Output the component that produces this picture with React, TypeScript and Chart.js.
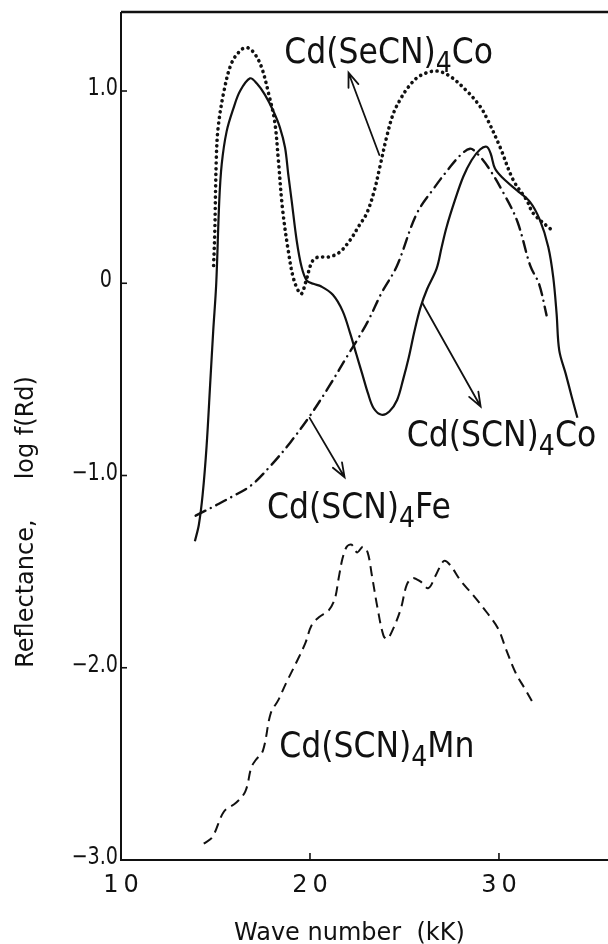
import React, { useEffect, useRef } from "react";
import { Chart, registerables } from "chart.js";
Chart.register(...registerables);

// ---- Data (wave number in kK, log f(Rd)) ----
const secnCoX = [14.9, 14.96, 15.04, 15.14, 15.45, 15.86, 16.38, 16.72, 17.1, 17.45, 17.82, 18.13, 18.33, 18.54, 18.85, 19.16, 19.53, 19.77, 20.1, 20.4, 21.0, 21.55, 22.12, 22.6, 23.0, 23.4, 23.7, 24.06, 24.4, 24.76, 25.2, 25.8, 26.67, 27.39, 28.3, 29.0, 29.4, 30.05, 30.76, 31.47, 31.82, 32.8];
const secnCoY = [0.092, 0.256, 0.637, 0.81, 1.0, 1.147, 1.216, 1.225, 1.19, 1.12, 0.983, 0.844, 0.637, 0.394, 0.17, 0.014, -0.055, 0.005, 0.11, 0.135, 0.137, 0.16, 0.224, 0.3, 0.363, 0.48, 0.606, 0.762, 0.88, 0.953, 1.02, 1.078, 1.104, 1.078, 1.0, 0.92, 0.85, 0.71, 0.536, 0.432, 0.363, 0.276];

const scnCoX = [13.91, 14.12, 14.32, 14.53, 14.73, 14.88, 15.04, 15.2, 15.33, 15.59, 15.95, 16.3, 16.83, 17.18, 17.62, 18.06, 18.41, 18.68, 18.85, 19.03, 19.3, 19.56, 19.83, 20.18, 20.6, 21.21, 21.73, 22.14, 22.45, 22.76, 23.07, 23.37, 23.79, 24.2, 24.61, 24.92, 25.23, 25.53, 25.84, 26.2, 26.7, 26.97, 27.23, 27.67, 28.11, 28.55, 29.0, 29.35, 29.56, 29.79, 30.23, 30.94, 31.64, 32.17, 32.61, 32.87, 33.05, 33.19, 33.53, 33.85, 34.15];
const scnCoY = [-1.342, -1.256, -1.1, -0.846, -0.504, -0.248, 0.0, 0.43, 0.62, 0.79, 0.91, 1.0, 1.066, 1.04, 0.98, 0.896, 0.81, 0.706, 0.567, 0.43, 0.22, 0.083, 0.014, -0.003, -0.017, -0.06, -0.145, -0.265, -0.368, -0.47, -0.573, -0.65, -0.684, -0.667, -0.607, -0.504, -0.385, -0.248, -0.128, -0.03, 0.076, 0.189, 0.293, 0.432, 0.554, 0.64, 0.696, 0.71, 0.675, 0.597, 0.545, 0.484, 0.423, 0.328, 0.189, 0.033, -0.158, -0.349, -0.47, -0.59, -0.7];

const scnFeX = [13.95, 15.04, 15.86, 16.89, 17.92, 18.95, 19.98, 21.0, 22.04, 22.47, 23.07, 23.79, 24.6, 25.64, 26.6, 27.39, 28.0, 28.47, 28.8, 29.44, 30.27, 30.98, 31.66, 32.12, 32.52];
const scnFeY = [-1.209, -1.154, -1.111, -1.051, -0.949, -0.829, -0.692, -0.538, -0.368, -0.3, -0.197, -0.05, 0.09, 0.36, 0.5, 0.602, 0.67, 0.7, 0.68, 0.602, 0.464, 0.32, 0.09, -0.003, -0.167];

const scnMnX = [14.38, 14.84, 15.45, 16.07, 16.58, 16.89, 17.1, 17.51, 17.92, 18.33, 18.74, 19.36, 19.77, 20.08, 20.49, 21.0, 21.32, 21.52, 21.73, 21.95, 22.2, 22.5, 22.8, 23.05, 23.27, 23.58, 23.89, 24.09, 24.4, 24.81, 25.12, 25.43, 25.84, 26.26, 26.67, 27.08, 27.39, 28.0, 28.62, 29.34, 29.96, 30.37, 30.88, 31.4, 31.81];
const scnMnY = [-2.915, -2.88, -2.748, -2.704, -2.643, -2.52, -2.484, -2.431, -2.238, -2.167, -2.079, -1.956, -1.868, -1.78, -1.736, -1.7, -1.639, -1.533, -1.428, -1.37, -1.36, -1.4, -1.37, -1.4, -1.516, -1.692, -1.833, -1.85, -1.798, -1.692, -1.569, -1.533, -1.551, -1.586, -1.516, -1.445, -1.463, -1.551, -1.621, -1.71, -1.797, -1.903, -2.026, -2.114, -2.185];

// ---- Axis ticks ----
const xTickValues = [10, 20, 30];
const xTickLabels = ["10", "20", "30"];
const yTickValues = [1, 0, -1, -2, -3];
const yTickLabels = ["1.0", "0", "\u22121.0", "\u22122.0", "\u22123.0"];
const xTitle = "Wave number  (kK)";
const yTitleParts = ["Reflectance,", "log f(Rd)"];

// ---- Curve labels (formula parts, anchor in data units) ----
const labelMain = ["Cd(SeCN)", "Cd(SCN)", "Cd(SCN)", "Cd(SCN)"];
const labelSub = ["4", "4", "4", "4"];
const labelTail = ["Co", "Co", "Fe", "Mn"];
const labelX = [18.64, 25.12, 17.72, 18.37];
const labelY = [1.147, -0.846, -1.219, -2.463];

// ---- Arrows (tail -> head, data units) ----
const arrowFromX = [23.67, 25.95, 19.98];
const arrowFromY = [0.667, -0.103, -0.7];
const arrowToX = [22.04, 29.03, 21.83];
const arrowToY = [1.095, -0.641, -1.009];

const INK = "#111";

function pts(xs: number[], ys: number[]) {
  return xs.map((x, i) => ({ x, y: ys[i] }));
}

const decorPlugin = {
  id: "decor",
  beforeDraw(chart: any) {
    const ctx = chart.ctx;
    ctx.save();
    ctx.fillStyle = "#fff";
    ctx.fillRect(0, 0, chart.width, chart.height);
    ctx.restore();
  },
  afterDraw(chart: any) {
    const ctx: CanvasRenderingContext2D = chart.ctx;
    const xs = chart.scales.x;
    const ys = chart.scales.y;
    const a = chart.chartArea;
    ctx.save();
    ctx.strokeStyle = INK;
    ctx.fillStyle = INK;
    ctx.lineCap = "butt";
    // frame: left, bottom, top
    ctx.lineWidth = 2;
    ctx.beginPath();
    ctx.moveTo(a.left, a.top);
    ctx.lineTo(a.left, a.bottom);
    ctx.lineTo(a.right, a.bottom);
    ctx.stroke();
    ctx.lineWidth = 2.6;
    ctx.beginPath();
    ctx.moveTo(a.left, a.top);
    ctx.lineTo(a.right, a.top);
    ctx.stroke();
    // inward ticks
    ctx.lineWidth = 1.6;
    yTickValues.forEach((v) => {
      const py = ys.getPixelForValue(v);
      ctx.beginPath();
      ctx.moveTo(a.left, py);
      ctx.lineTo(a.left + 6, py);
      ctx.stroke();
    });
    xTickValues.forEach((v) => {
      const px = xs.getPixelForValue(v);
      ctx.beginPath();
      ctx.moveTo(px, a.bottom);
      ctx.lineTo(px, a.bottom - 7);
      ctx.stroke();
    });
    // y tick labels
    ctx.font = "24px 'DejaVu Sans', sans-serif";
    ctx.textBaseline = "alphabetic";
    yTickValues.forEach((v, i) => {
      const py = ys.getPixelForValue(v);
      const t = yTickLabels[i];
      const w = ctx.measureText(t).width * 0.8;
      const gap = v === 0 ? 9 : 3;
      ctx.save();
      ctx.translate(a.left - gap - w, py + 4);
      ctx.scale(0.8, 1);
      ctx.textAlign = "left";
      ctx.fillText(t, 0, 0);
      ctx.restore();
    });
    // x tick labels (spaced digits)
    ctx.font = "24px 'DejaVu Sans', sans-serif";
    xTickValues.forEach((v, i) => {
      const px = xs.getPixelForValue(v);
      const t = xTickLabels[i];
      (ctx as any).letterSpacing = "5px";
      const w = ctx.measureText(t).width - 5;
      ctx.textAlign = "left";
      ctx.fillText(t, px - w / 2, a.bottom + 32);
      (ctx as any).letterSpacing = "0px";
    });
    // axis titles
    ctx.font = "24px 'DejaVu Sans', sans-serif";
    ctx.textAlign = "left";
    ctx.fillText(xTitle, 234, chart.height - 4);
    ctx.save();
    ctx.translate(33, ys.getPixelForValue(-2.0));
    ctx.rotate(-Math.PI / 2);
    ctx.fillText(yTitleParts[0], 0, 0);
    ctx.restore();
    ctx.save();
    ctx.translate(33, ys.getPixelForValue(-1.02));
    ctx.rotate(-Math.PI / 2);
    ctx.fillText(yTitleParts[1], 0, 0);
    ctx.restore();
    // curve labels
    const big = "35px 'DejaVu Sans', sans-serif";
    const small = "28px 'DejaVu Sans', sans-serif";
    const sx = 0.9;
    labelMain.forEach((m, i) => {
      const px = xs.getPixelForValue(labelX[i]);
      const py = ys.getPixelForValue(labelY[i]);
      ctx.save();
      ctx.translate(px, py);
      ctx.scale(sx, 1);
      ctx.font = big;
      ctx.fillText(m, 0, 0);
      let off = ctx.measureText(m).width;
      ctx.font = small;
      ctx.fillText(labelSub[i], off, 9);
      off += ctx.measureText(labelSub[i]).width;
      ctx.font = big;
      ctx.fillText(labelTail[i], off, 0);
      ctx.restore();
    });
    // arrows
    ctx.lineWidth = 1.8;
    ctx.lineCap = "round";
    arrowFromX.forEach((fx, i) => {
      const x0 = xs.getPixelForValue(fx);
      const y0 = ys.getPixelForValue(arrowFromY[i]);
      const x1 = xs.getPixelForValue(arrowToX[i]);
      const y1 = ys.getPixelForValue(arrowToY[i]);
      const ang = Math.atan2(y1 - y0, x1 - x0);
      const L = 15;
      const h = 0.36;
      ctx.beginPath();
      ctx.moveTo(x0, y0);
      ctx.lineTo(x1, y1);
      ctx.moveTo(x1 - L * Math.cos(ang - h), y1 - L * Math.sin(ang - h));
      ctx.lineTo(x1, y1);
      ctx.lineTo(x1 - L * Math.cos(ang + h), y1 - L * Math.sin(ang + h));
      ctx.stroke();
    });
    ctx.restore();
  },
};

export default function App() {
  const ref = useRef<HTMLCanvasElement | null>(null);
  useEffect(() => {
    document.body.style.margin = "0";
    const canvas = ref.current;
    if (!canvas) return;
    const common = { showLine: true, pointRadius: 0, fill: false, borderColor: INK, tension: 0.35 };
    const chart = new Chart(canvas, {
      type: "scatter",
      data: {
        datasets: [
          { ...common, label: "Cd(SeCN)4Co", data: pts(secnCoX, secnCoY), borderWidth: 3.6, borderDash: [0.1, 5.6], borderCapStyle: "round" },
          { ...common, label: "Cd(SCN)4Co", data: pts(scnCoX, scnCoY), borderWidth: 2.2 },
          { ...common, label: "Cd(SCN)4Fe", data: pts(scnFeX, scnFeY), borderWidth: 2.4, borderDash: [11, 6, 0.1, 6], borderCapStyle: "round" },
          { ...common, label: "Cd(SCN)4Mn", data: pts(scnMnX, scnMnY), borderWidth: 2.0, borderDash: [10, 6] },
        ] as any,
      },
      options: {
        responsive: false,
        animation: false,
        devicePixelRatio: 1,
        layout: { padding: { left: 121, top: 12, right: 0, bottom: 84 } },
        scales: {
          x: { type: "linear", min: 10, max: 35.77, display: false },
          y: { type: "linear", min: -3, max: 1.411, display: false },
        },
        plugins: { legend: { display: false }, tooltip: { enabled: false } },
        events: [],
      } as any,
      plugins: [decorPlugin],
    });
    return () => chart.destroy();
  }, []);
  return <canvas ref={ref} width={608} height={944} style={{ display: "block", width: 608, height: 944 }} />;
}
